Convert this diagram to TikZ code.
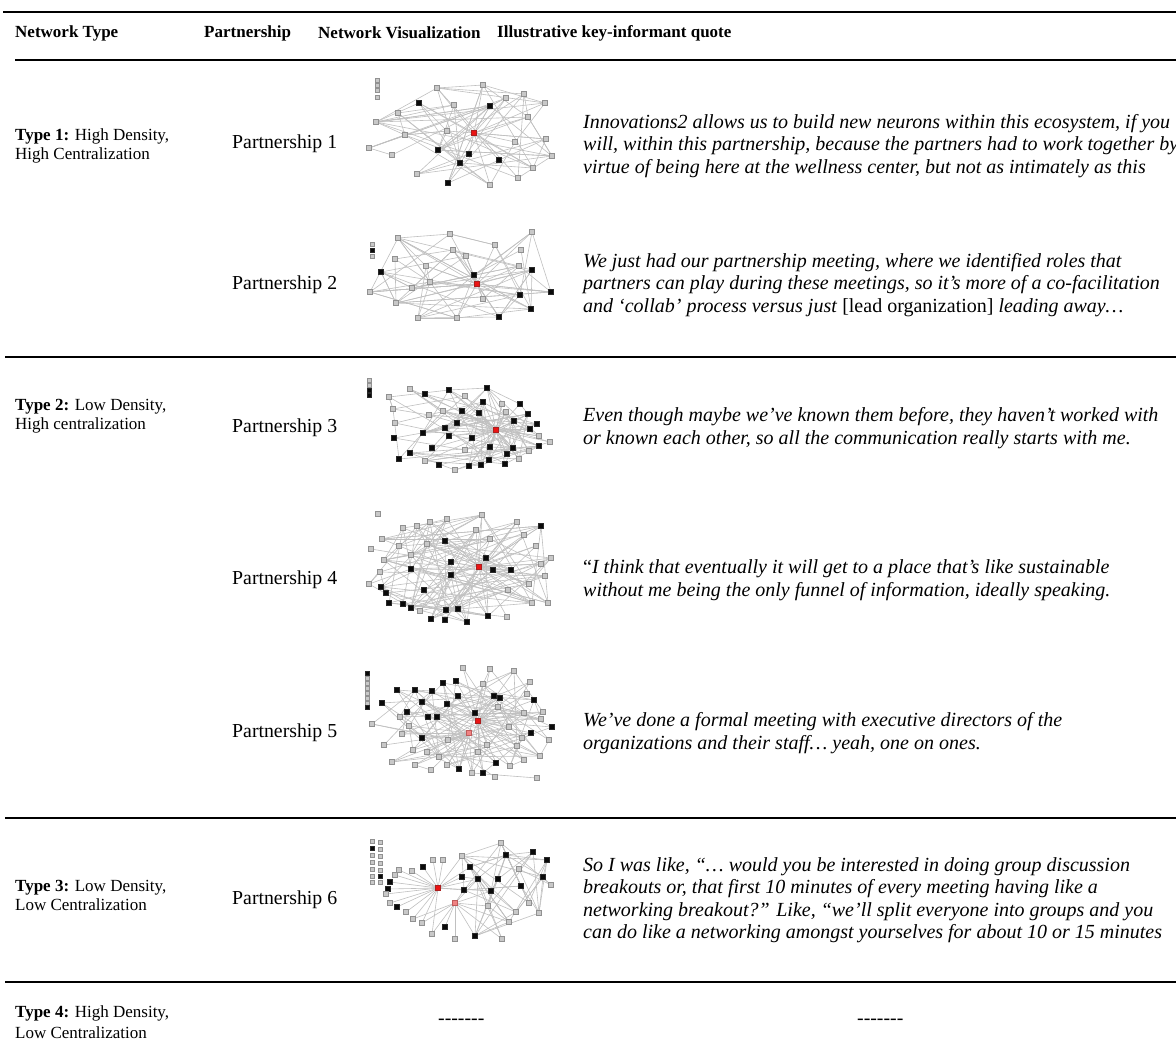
\documentclass[tikz,border=0pt]{standalone}
\usepackage{fontspec}
\setmainfont{Liberation Serif}
\usetikzlibrary{positioning,backgrounds}
\definecolor{fillg}{RGB}{200,200,200}
\definecolor{lineg}{RGB}{145,145,145}
\definecolor{fillk}{RGB}{10,10,10}
\definecolor{linek}{RGB}{40,40,40}
\definecolor{fillr}{RGB}{235,20,20}
\definecolor{liner}{RGB}{170,30,30}
\definecolor{fillp}{RGB}{240,130,130}
\definecolor{linep}{RGB}{190,90,90}
\definecolor{edgegray}{RGB}{192,192,192}
\newcommand{\dashrow}{-{}-{}-{}-{}-{}-{}-}

\begin{document}
\begin{tikzpicture}[x=1pt,y=-1pt,font=\fontsize{17}{21}\selectfont,
  cell/.style={anchor=west,inner sep=0pt,align=left},
  typecell/.style={cell,font=\fontsize{17}{19}\selectfont},
  body/.style={cell,font=\fontsize{19.8}{22}\selectfont},
  quote/.style={cell,font=\fontsize{20}{22.5}\selectfont\itshape},
  rule/.style={line width=2.4pt},
  sq/.style={rectangle,inner sep=0pt,minimum size=5.5pt,line width=0.6pt},
  iso/.style={rectangle,inner sep=0pt,minimum size=4pt,line width=0.5pt},
  edge/.style={draw=edgegray,line width=0.6pt}]
  \useasboundingbox (0,0) rectangle (1176,1047);
  \begin{scope}[on background layer]
    \fill[white] (0,0) rectangle (1176,1047);
  \end{scope}
  % rules
  \draw[rule] (3,12) -- (1176,12);
  \draw[rule] (15,60) -- (1176,60);
  \draw[rule] (5,357) -- (1176,357);
  \draw[rule] (5,818) -- (1176,818);
  \draw[rule] (5,982) -- (1176,982);
  % header
  \node[cell] (hdtype) at (15,33) {\textbf{Network Type}};
  \node[cell] (hdpart) at (204,33) {\textbf{Partnership}};
  \node[cell] (hdvis) at (318,33) {\textbf{Network Visualization}};
  \node[cell] (hdquote) at (497,33) {\textbf{Illustrative key-informant quote}};
  % network type column
  \node[typecell] (type1) at (15,146) {\textbf{Type 1:} High Density,\\High Centralization};
  \node[typecell] (type2) at (15,416) {\textbf{Type 2:} Low Density,\\High centralization};
  \node[typecell] (type3) at (15,895) {\textbf{Type 3:} Low Density,\\Low Centralization};
  \node[cell] (type4) at (15,1022) {\textbf{Type 4:} High Density,\\Low Centralization};
  % partnership column
  \foreach \n/\y in {1/144,2/285,3/428,4/580,5/733,6/900}
    \node[body] (part\n) at (232,\y) {Partnership \n};
  \node[body] (partnone) at (438,1022) {\dashrow};
  % quote column
  \node[quote] (quote1) at (583,146) {Innovations2 allows us to build new neurons within this ecosystem, if you\\will, within this partnership, because the partners had to work together by\\virtue of being here at the wellness center, but not as intimately as this};
  \node[quote] (quote2) at (583,285) {We just had our partnership meeting, where we identified roles that\\partners can play during these meetings, so it’s more of a co-facilitation\\and ‘collab’ process versus just \textup{[lead organization]} leading away…};
  \node[quote] (quote3) at (583,428) {Even though maybe we’ve known them before, they haven’t worked with\\or known each other, so all the communication really starts with me.};
  \node[quote] (quote4) at (583,580) {\textup{“}I think that eventually it will get to a place that’s like sustainable\\without me being the only funnel of information, ideally speaking.};
  \node[quote] (quote5) at (583,733) {We’ve done a formal meeting with executive directors of the\\organizations and their staff… yeah, one on ones.};
  \node[quote] (quote6) at (583,900) {So I was like, “… would you be interested in doing group discussion\\breakouts or, that first 10 minutes of every meeting having like a\\networking breakout?” Like, “we’ll split everyone into groups and you\\can do like a networking amongst yourselves for about 10 or 15 minutes};
  \node[body] (quotenone) at (857,1022) {\dashrow};

  % network of partnership 1
  \foreach \x/\y/\c [count=\i] in {377/80/g,377/85/g,377/90/g,377/97/g}
    \node[iso,fill=fill\c,draw=line\c] (ai\i) at (\x,\y) {};
  \foreach \x/\y/\c [count=\i] in {437/88/g,483/85/g,506/98/g,524/94/g,545/103/g,419/103/k,454/105/g,490/106/k,398/113/g,528/117/g,376/122/g,447/131/g,474/133/r,405/135/g,546/139/g,515/142/g,369/148/g,438/150/k,469/154/k,392/155/g,552/156/g,499/160/k,460/163/k,533/168/g,417/174/g,518/178/g,448/183/k,490/185/g}
    \node[sq,fill=fill\c,draw=line\c] (a\i) at (\x,\y) {};
  \begin{scope}[on background layer]
    \pgfmathsetseed{101}
    \foreach \k in {1,...,68}{
      \pgfmathrandominteger{\p}{1}{28}\pgfmathrandominteger{\q}{1}{28}
      \draw[edge] (a\p) -- (a\q);}
    \foreach \j in {1,2,3,5,6,8,10,12,15,16,18,19,22,24,27,28}
      \draw[edge] (a13) -- (a\j);
  \end{scope}

  % network of partnership 2
  \foreach \x/\y/\c [count=\i] in {372/244/g,372/250/k,372/256/g}
    \node[iso,fill=fill\c,draw=line\c] (bi\i) at (\x,\y) {};
  \foreach \x/\y/\c [count=\i] in {532/232/g,450/234/g,398/238/g,495/245/g,453/250/g,521/250/g,466/256/g,395/259/g,426/266/g,519/266/g,381/272/k,532/270/k,474/275/k,430/282/g,477/284/r,412/288/g,370/292/g,520/295/k,551/292/k,483/299/g,396/303/g,531/309/k,418/318/g,457/318/g,499/317/k}
    \node[sq,fill=fill\c,draw=line\c] (b\i) at (\x,\y) {};
  \begin{scope}[on background layer]
    \pgfmathsetseed{202}
    \foreach \k in {1,...,78}{
      \pgfmathrandominteger{\p}{1}{25}\pgfmathrandominteger{\q}{1}{25}
      \draw[edge] (b\p) -- (b\q);}
    \foreach \j in {1,3,4,5,7,9,10,12,13,17,19,21,22,24,25}
      \draw[edge] (b15) -- (b\j);
  \end{scope}

  % network of partnership 3
  \foreach \x/\y/\c [count=\i] in {369/380/g,369/385/g,369/390/k,369/395/k}
    \node[iso,fill=fill\c,draw=line\c] (ci\i) at (\x,\y) {};
  \foreach \x/\y/\c [count=\i] in {410/389/g,389/397/g,425/394/k,449/390/k,487/388/k,465/396/g,483/402/k,502/404/g,520/404/k,393/409/g,443/411/g,462/411/k,479/413/k,506/412/g,528/414/k,429/415/g,395/423/g,457/423/k,514/421/k,537/424/k,445/428/k,496/430/r,530/429/k,423/433/k,394/438/k,449/436/k,472/438/k,539/436/g,550/442/g,432/448/k,490/447/k,513/448/k,539/446/k,465/450/g,410/453/k,507/454/k,529/451/g,399/459/k,425/461/g,489/460/k,519/459/g,439/465/k,469/466/k,481/465/k,505/464/k,455/470/g}
    \node[sq,fill=fill\c,draw=line\c] (c\i) at (\x,\y) {};
  \begin{scope}[on background layer]
    \pgfmathsetseed{303}
    \foreach \k in {1,...,96}{
      \pgfmathrandominteger{\p}{1}{46}\pgfmathrandominteger{\q}{1}{46}
      \draw[edge] (c\p) -- (c\q);}
    \foreach \j in {3,4,5,6,7,9,11,12,13,14,15,18,19,20,21,23,26,27,28,29,30,31,32,33,36,40,41,43,44,45}
      \draw[edge] (c22) -- (c\j);
  \end{scope}

  % network of partnership 4
  \node[sq,fill=fillg,draw=lineg] (di1) at (378,514) {};
  \foreach \x/\y/\c [count=\i] in {482/515/g,447/519/g,517/522/g,430/522/g,417/526/g,541/526/k,403/528/g,476/530/g,524/535/g,382/539/g,445/541/k,490/539/g,427/544/g,399/546/g,536/546/g,371/549/g,411/555/g,486/558/k,551/558/g,384/560/g,451/562/k,541/564/g,479/567/r,411/569/k,493/570/k,511/570/k,380/572/g,451/575/k,545/576/g,369/584/g,529/584/g,381/587/k,424/590/k,508/590/g,386/593/k,532/603/g,548/603/g,389/603/k,403/604/k,411/608/k,420/611/g,446/610/k,458/609/k,488/616/k,507/617/g,431/619/k,445/620/k,467/622/k}
    \node[sq,fill=fill\c,draw=line\c] (d\i) at (\x,\y) {};
  \begin{scope}[on background layer]
    \pgfmathsetseed{404}
    \foreach \k in {1,...,120}{
      \pgfmathrandominteger{\p}{1}{48}\pgfmathrandominteger{\q}{1}{48}
      \draw[edge] (d\p) -- (d\q);}
    \foreach \j in {1,2,3,4,6,8,9,11,12,13,15,18,19,21,22,25,26,28,29,31,34,36,42,43,44,45}
      \draw[edge] (d23) -- (d\j);
  \end{scope}

  % network of partnership 5
  \foreach \y/\c [count=\i] in {673/k,678/g,683/g,688/g,693/g,698/g,703/g,707/k}
    \node[iso,fill=fill\c,draw=line\c] (ei\i) at (367,\y) {};
  \foreach \x/\y/\c [count=\i] in {463/668/g,490/669/g,514/671/g,456/681/k,443/683/k,530/682/g,483/684/g,397/690/k,415/690/k,432/691/k,458/696/k,494/696/k,500/698/k,527/694/g,534/700/k,382/703/k,422/702/k,447/704/k,498/707/g,407/712/k,524/713/g,543/712/g,475/713/k,428/717/k,437/717/k,400/717/g,541/719/g,372/724/g,478/721/r,409/726/g,509/727/g,552/727/k,469/733/p,402/734/g,531/733/k,522/738/g,422/738/k,448/740/g,549/740/g,384/745/g,487/745/g,413/750/g,427/752/g,478/752/g,517/746/g,439/757/g,524/760/g,540/756/g,392/762/g,496/763/k,415/765/g,431/770/g,447/765/g,459/769/k,472/773/g,483/773/k,495/777/g,510/766/g,537/778/g}
    \node[sq,fill=fill\c,draw=line\c] (e\i) at (\x,\y) {};
  \begin{scope}[on background layer]
    \pgfmathsetseed{505}
    \foreach \k in {1,...,95}{
      \pgfmathrandominteger{\p}{1}{59}\pgfmathrandominteger{\q}{1}{59}
      \draw[edge] (e\p) -- (e\q);}
    \foreach \j in {1,2,3,4,5,6,7,10,11,12,13,14,15,17,18,19,21,22,23,25,27,31,32,35,36,38,41,44,45,47,48,50,54,55,56,58}
      \draw[edge] (e29) -- (e\j);
    \foreach \j in {24,30,34,37,38,40,42,43,46,49,51,52,53,55}
      \draw[edge] (e33) -- (e\j);
  \end{scope}

  % network of partnership 6
  \foreach \y/\c [count=\i] in {841/g,848/k,855/g,862/g,869/g,876/g,882/g}
    \node[iso,fill=fill\c,draw=line\c] (fi\i) at (372,\y) {};
  \foreach \y/\c [count=\i] in {842/g,849/g,856/g,863/g,870/g,876/k,882/g}
    \node[iso,fill=fill\c,draw=line\c] (fj\i) at (380,\y) {};
  \foreach \x/\y/\c [count=\i] in {501/843/g,533/852/k,506/855/k,547/860/k,462/856/g,433/860/g,443/860/g,423/867/k,470/867/k,519/869/g,399/870/g,412/871/g,462/877/k,478/879/k,498/879/k,543/877/k,390/882/k,395/875/g,521/886/k,551/885/g,438/888/r,388/889/k,464/890/k,491/891/k,386/894/g,455/903/p,390/903/g,488/906/g,529/903/g,397/907/k,406/912/g,539/913/g,413/919/g,422/923/g,509/922/g,445/927/k,432/934/g,455/939/g,475/936/k,502/939/g,516/912/g}
    \node[sq,fill=fill\c,draw=line\c] (f\i) at (\x,\y) {};
  \begin{scope}[on background layer]
    \pgfmathsetseed{606}
    \pgfmathdeclarerandomlist{rightside}{{1}{2}{3}{4}{5}{9}{10}{13}{14}{15}{16}{19}{20}{23}{24}{28}{29}{32}{35}{39}{40}{41}}
    \foreach \k in {1,...,60}{
      \pgfmathrandomitem{\p}{rightside}\pgfmathrandomitem{\q}{rightside}
      \draw[edge] (f\p) -- (f\q);}
    \foreach \j in {5,6,7,8,9,11,12,13,17,18,22,23,25,27,30,31,33,34,37,14,24}
      \draw[edge] (f21) -- (f\j);
    \foreach \j in {14,23,24,28,33,34,35,36,37,38,39,40}
      \draw[edge] (f26) -- (f\j);
  \end{scope}
\end{tikzpicture}
\end{document}
